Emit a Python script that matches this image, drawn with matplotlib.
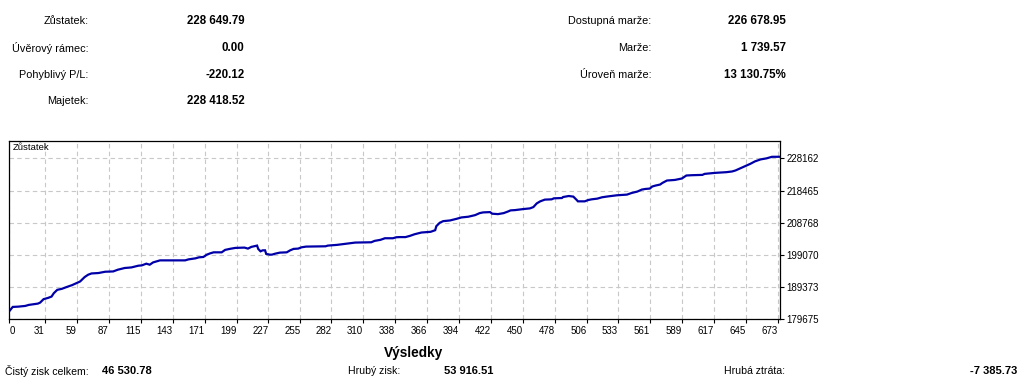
import matplotlib
matplotlib.use("Agg")
import matplotlib.pyplot as plt

# ---- data ----
trade_idx = [0, 3, 8, 14, 17, 25, 27, 30, 34, 37, 39, 42, 46, 50, 55, 59, 62, 66, 69, 72,
             78, 84, 91, 95, 101, 107, 113, 116, 120, 123, 126, 129, 132, 154, 157, 163, 166,
             170, 173, 176, 179, 186, 189, 193, 198, 206, 209, 212, 217, 218, 220, 222, 224,
             225, 228, 230, 233, 237, 243, 246, 249, 253, 256, 260, 277, 279, 287, 296, 303,
             317, 320, 325, 329, 336, 339, 342, 347, 351, 355, 361, 369, 373, 374, 377, 380,
             386, 392, 396, 402, 408, 412, 415, 421, 423, 428, 433, 437, 439, 443, 450, 456,
             459, 462, 465, 469, 475, 477, 484, 485, 490, 494, 497, 498, 504, 507, 510, 515,
             519, 523, 532, 541, 545, 550, 554, 557, 561, 563, 566, 570, 572, 576, 583, 589,
             593, 598, 607, 609, 618, 628, 633, 636, 640, 644, 649, 653, 658, 663, 668, 674]
balance = [182119, 183402, 183493, 183705, 184008, 184402, 184705, 185736, 186130, 186524,
           187554, 188554, 188857, 189372, 189978, 190584, 191069, 192403, 193100, 193494,
           193615, 194009, 194100, 194615, 195130, 195312, 195827, 195918, 196433, 196130,
           196827, 197130, 197433, 197433, 197736, 198039, 198342, 198463, 199160, 199555,
           199857, 199857, 200585, 200888, 201191, 201282, 200979, 201494, 201887, 200888,
           200160, 200463, 200463, 199373, 199160, 199160, 199463, 199767, 199857, 200463,
           200888, 200979, 201372, 201585, 201676, 201887, 202100, 202494, 202797, 202888,
           203312, 203615, 204100, 204100, 204403, 204450, 204450, 204827, 205312, 205827,
           206039, 206524, 207736, 208767, 209252, 209464, 209979, 210373, 210585, 211070,
           211676, 211888, 211979, 211494, 211373, 211676, 212191, 212494, 212585, 212888,
           213100, 213494, 214615, 215222, 215737, 215827, 216130, 216221, 216524, 216828,
           216646, 215616, 215222, 215222, 215616, 215827, 216040, 216434, 216646, 217040,
           217252, 217737, 218161, 218767, 218949, 219070, 219676, 219979, 220282, 220767,
           221495, 221676, 222101, 223010, 223100, 223191, 223495, 223798, 224010, 224222,
           224525, 225131, 225737, 226525, 227252, 227858, 228161, 228646, 228650]

x_ticks = [0, 31, 59, 87, 115, 143, 171, 199, 227, 255, 282, 310, 338, 366, 394, 422, 450,
           478, 506, 533, 561, 589, 617, 645, 673]
y_ticks = [179675, 189373, 199070, 208768, 218465, 228162]

header_left_labels = ["Zůstatek:", "Úvěrový rámec:", "Pohyblivý P/L:", "Majetek:"]
header_left_values = ["228 649.79", "0.00", "-220.12", "228 418.52"]
header_right_labels = ["Dostupná marže:", "Marže:", "Úroveň marže:"]
header_right_values = ["226 678.95", "1 739.57", "13 130.75%"]
results_title = "Výsledky"
results_labels = ["Čistý zisk celkem:", "Hrubý zisk:", "Hrubá ztráta:"]
results_values = ["46 530.78", "53 916.51", "-7 385.73"]
series_name = "Zůstatek"

# ---- figure ----
W, H = 1033, 385
plt.rcParams['font.family'] = ['Liberation Sans', 'DejaVu Sans']
fig = plt.figure(figsize=(W / 100, H / 100), dpi=100)
fig.patch.set_facecolor("white")


def fx(px):
    return px / W


def fy(py):
    return 1 - py / H


ax_left, ax_right, ax_top, ax_bottom = 9.3, 780, 140.7, 319.3
ax = fig.add_axes([fx(ax_left), fy(ax_bottom), (ax_right - ax_left) / W, (ax_bottom - ax_top) / H])
ax.plot(trade_idx, balance, color="#0000A8", lw=1.6, solid_joinstyle="miter")
ax.set_xlim(0, 675)
step = y_ticks[1] - y_ticks[0]
ax.set_ylim(y_ticks[0], y_ticks[-1] + step * 0.55)
ax.set_xticks(x_ticks)
ax.set_xticklabels([str(v) for v in x_ticks])
ax.set_yticks(y_ticks)
ax.set_yticklabels([str(v) for v in y_ticks])
ax.yaxis.tick_right()
ax.tick_params(axis="both", direction="out", length=3, width=0.8, colors="black",
               labelsize=7.0, pad=1.5)
for i, lbl in enumerate(ax.get_xticklabels()):
    lbl.set_ha("left" if i == 0 else "right")
ax.grid(True, color="#c8c8c8", linestyle=(0, (4, 3)), linewidth=0.8)
for sp in ax.spines.values():
    sp.set_color("black")
    sp.set_linewidth(0.9)
ax.text(0.005, 0.985, series_name, transform=ax.transAxes, ha="left", va="top", fontsize=6.8)

# ---- header ----
rows_left = [20.7, 47.7, 74.5, 101.3]
for lab, val, y in zip(header_left_labels, header_left_values, rows_left):
    fig.text(fx(88.5), fy(y), lab, ha="right", va="center", fontsize=7.8)
    fig.text(fx(244.5), fy(y), val, ha="right", va="center", fontsize=8.3, fontweight="bold")
rows_right = [20.7, 48, 75]
for lab, val, y in zip(header_right_labels, header_right_values, rows_right):
    fig.text(fx(651.7), fy(y), lab, ha="right", va="center", fontsize=7.8)
    fig.text(fx(786), fy(y), val, ha="right", va="center", fontsize=8.3, fontweight="bold")

# ---- results ----
fig.text(fx(414), fy(352.5), results_title, ha="center", va="center", fontsize=9.8, fontweight="bold")
label_x = [5, 348, 724]
value_x = [(102, "left"), (444, "left"), (1017, "right")]
for lab, val, lx, (vx, ha) in zip(results_labels, results_values, label_x, value_x):
    fig.text(fx(lx), fy(371), lab, ha="left", va="center", fontsize=7.6)
    fig.text(fx(vx), fy(371), val, ha=ha, va="center", fontsize=8.0, fontweight="bold")

fig.savefig("out.png", dpi=100, facecolor="white")
